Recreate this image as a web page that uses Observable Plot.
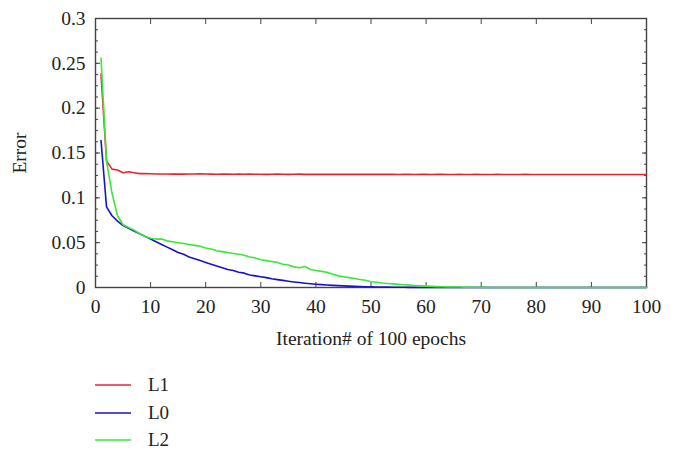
<!DOCTYPE html>
<html>
<head>
<meta charset="utf-8">
<script src="https://cdn.jsdelivr.net/npm/d3@7"></script>
<script src="https://cdn.jsdelivr.net/npm/@observablehq/plot@0.6"></script>
<style>
  html, body { margin: 0; padding: 0; background: #fff; }
  #chart { width: 675px; }
  #chart svg, #chart svg text { font-family: 'Liberation Serif', 'Times New Roman', 'DejaVu Serif', serif !important; }
  .legend { font-family: 'Liberation Serif', 'Times New Roman', 'DejaVu Serif', serif; font-size: 19px; color: #222; position: relative; height: 104px; }
  .legend .row { position: absolute; left: 95px; height: 20px; display: flex; align-items: center; }
  .legend .row span { margin-left: 17px; }
</style>
</head>
<body>
<div id="chart"></div>
<script>
// Series names and colours
const seriesNames = ["L1", "L0", "L2"];
const seriesColors = ["#e8262e", "#1414c8", "#3ce63c"];

// Error per iteration (iterations 1..100)
const L1 = [
  0.238, 0.141, 0.132, 0.131, 0.128, 0.129, 0.128, 0.127, 0.127, 0.1268,
  0.1266, 0.1265, 0.1266, 0.1264, 0.1265, 0.1264, 0.1265, 0.1266, 0.1267, 0.1265,
  0.1264, 0.1263, 0.1264, 0.1265, 0.1263, 0.1264, 0.1263, 0.1264, 0.1263, 0.1263,
  0.1262, 0.1263, 0.1264, 0.1263, 0.1262, 0.1263, 0.1264, 0.1262, 0.1263, 0.1262,
  0.1263, 0.1262, 0.1262, 0.1263, 0.1262, 0.1262, 0.1263, 0.1262, 0.1262, 0.1262,
  0.1263, 0.1262, 0.1262, 0.1262, 0.1261, 0.1262, 0.1262, 0.1261, 0.1262, 0.1262,
  0.1261, 0.1262, 0.1262, 0.1261, 0.1261, 0.1262, 0.1261, 0.1261, 0.1262, 0.1261,
  0.1261, 0.1261, 0.1262, 0.1261, 0.1261, 0.1261, 0.1261, 0.1262, 0.1261, 0.1261,
  0.1261, 0.1261, 0.1261, 0.1260, 0.1261, 0.1261, 0.1261, 0.1260, 0.1261, 0.1261,
  0.1260, 0.1261, 0.1261, 0.1260, 0.1260, 0.1261, 0.1260, 0.1260, 0.1260, 0.1260
];
const L0 = [
  0.164, 0.090, 0.080, 0.074, 0.069, 0.066, 0.063, 0.060, 0.057, 0.054,
  0.051, 0.048, 0.045, 0.042, 0.039, 0.037, 0.034, 0.032, 0.030, 0.028,
  0.026, 0.024, 0.022, 0.020, 0.019, 0.017, 0.016, 0.014, 0.013, 0.012,
  0.011, 0.0098, 0.0088, 0.0079, 0.0070, 0.0062, 0.0055, 0.0048, 0.0042, 0.0037,
  0.0032, 0.0028, 0.0024, 0.0021, 0.0018, 0.0015, 0.0013, 0.0011, 0.0009, 0.0008,
  0.0006, 0.0005, 0.0004, 0.0003, 0.0002, 0.0002, 0.0001, 0.0001, 0, 0,
  0, 0, 0, 0, 0, 0, 0, 0, 0, 0,
  0, 0, 0, 0, 0, 0, 0, 0, 0, 0,
  0, 0, 0, 0, 0, 0, 0, 0, 0, 0,
  0, 0, 0, 0, 0, 0, 0, 0, 0, 0
];
const L2 = [
  0.256, 0.141, 0.105, 0.080, 0.070, 0.067, 0.064, 0.060, 0.057, 0.055,
  0.054, 0.054, 0.052, 0.051, 0.050, 0.049, 0.048, 0.047, 0.046, 0.044,
  0.043, 0.041, 0.040, 0.039, 0.038, 0.037, 0.036, 0.034, 0.033, 0.031,
  0.030, 0.029, 0.028, 0.026, 0.025, 0.023, 0.022, 0.0235, 0.020, 0.019,
  0.018, 0.017, 0.015, 0.013, 0.012, 0.011, 0.010, 0.009, 0.008, 0.0065,
  0.0058, 0.005, 0.0045, 0.004, 0.0035, 0.003, 0.0026, 0.0022, 0.0018, 0.0015,
  0.0012, 0.001, 0.0009, 0.0007, 0.0006, 0.0005, 0.0004, 0.0003, 0.0002, 0.0002,
  0.0001, 0, 0, 0, 0, 0, 0, 0, 0, 0,
  0, 0, 0, 0, 0, 0, 0, 0, 0, 0,
  0, 0, 0, 0, 0, 0, 0, 0, 0, 0
];

// Tick values
const xTicks = [0, 10, 20, 30, 40, 50, 60, 70, 80, 90, 100];
const yTicks = [0, 0.05, 0.1, 0.15, 0.2, 0.25, 0.3];
const yMinorTicks = d3.range(0, 0.3001, 0.0125);

const seriesValues = [L1, L0, L2];
const data = seriesNames.flatMap((name, s) =>
  seriesValues[s].map((v, i) => ({ iter: i + 1, error: v, series: name }))
);

const font = "'Liberation Serif', 'Times New Roman', serif";
const axisColor = "#444";

const plot = Plot.plot({
  width: 675,
  height: 360,
  marginLeft: 95,
  marginRight: 29,
  marginTop: 18,
  marginBottom: 73,
  style: { fontFamily: font, fontSize: "19px", color: "#222", background: "#fff" },
  x: { domain: [0, 100] },
  y: { domain: [0, 0.3] },
  color: { domain: seriesNames, range: seriesColors },
  marks: [
    Plot.frame({ stroke: axisColor, strokeWidth: 1.4 }),
    Plot.axisX({ anchor: "bottom", ticks: xTicks, tickSize: -5, tickPadding: 17, stroke: axisColor,
                 tickFormat: d => String(d), label: "Iteration# of 100 epochs", labelAnchor: "center",
                 labelArrow: "none", labelOffset: 57, fontSize: 19.5 }),
    Plot.axisX({ anchor: "top", ticks: xTicks, tickSize: -5, stroke: axisColor, tickFormat: () => "", label: null }),
    Plot.axisY({ anchor: "left", ticks: yTicks, tickSize: -5, tickPadding: 15, stroke: axisColor,
                 tickFormat: d => String(+d.toFixed(2)), label: "Error", labelAnchor: "center",
                 labelArrow: "none", labelOffset: 83, fontSize: 19.5 }),
    Plot.axisY({ anchor: "left", ticks: yMinorTicks, tickSize: -3, stroke: axisColor, tickFormat: () => "", label: null }),
    Plot.axisY({ anchor: "right", ticks: yTicks, tickSize: -5, stroke: axisColor, tickFormat: () => "", label: null }),
    Plot.axisY({ anchor: "right", ticks: yMinorTicks, tickSize: -3, stroke: axisColor, tickFormat: () => "", label: null }),
    Plot.lineY(data, { x: "iter", y: "error", stroke: "series", strokeWidth: 1.6, z: "series" })
  ]
});

const chart = document.getElementById("chart");
chart.appendChild(plot);

// Legend below the plot
const legend = document.createElement("div");
legend.className = "legend";
const rowTops = [15, 43, 70];
seriesNames.forEach((name, i) => {
  const row = document.createElement("div");
  row.className = "row";
  row.style.top = rowTops[i] + "px";
  const sw = document.createElementNS("http://www.w3.org/2000/svg", "svg");
  sw.setAttribute("width", 36);
  sw.setAttribute("height", 20);
  const ln = document.createElementNS("http://www.w3.org/2000/svg", "line");
  ln.setAttribute("x1", 0); ln.setAttribute("x2", 36);
  ln.setAttribute("y1", 10); ln.setAttribute("y2", 10);
  ln.setAttribute("stroke", seriesColors[i]);
  ln.setAttribute("stroke-width", 1.6);
  sw.appendChild(ln);
  row.appendChild(sw);
  const label = document.createElement("span");
  label.textContent = name;
  row.appendChild(label);
  legend.appendChild(row);
});
chart.appendChild(legend);
</script>
</body>
</html>
